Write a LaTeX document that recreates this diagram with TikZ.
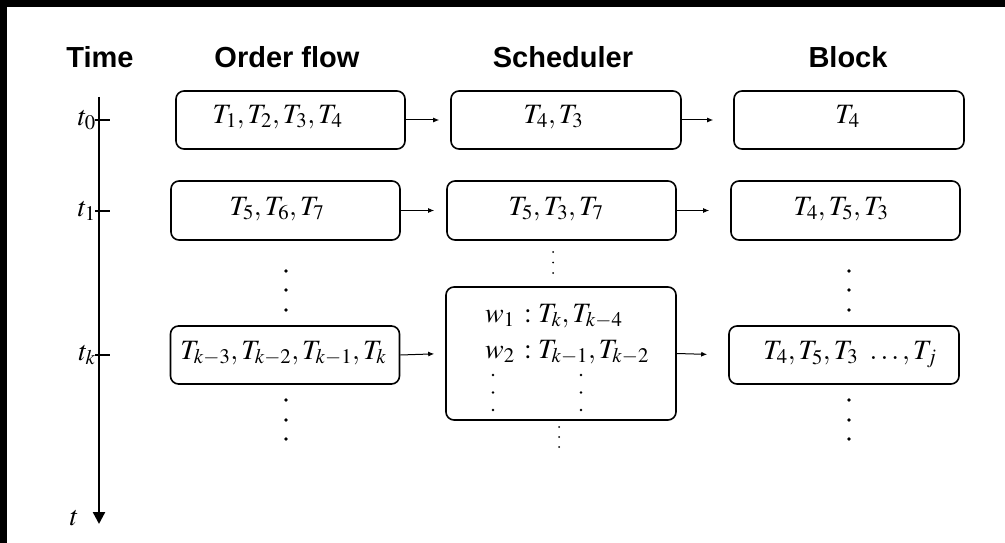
\documentclass[tikz,border=0pt]{standalone}
\usepackage{mathptmx}
\usepackage[no-math]{fontspec}
\newfontfamily\hdrfont{Liberation Sans}
\usetikzlibrary{arrows.meta}
\tikzset{
  box/.style={draw, line width=1.6pt, rounded corners=8pt, minimum width=229pt, minimum height=58pt, inner sep=0pt},
  btxt/.style={anchor=base, inner sep=0pt, font=\fontsize{28}{32}\selectfont},
  hdr/.style={font=\hdrfont\bfseries\fontsize{29}{32}\selectfont},
  arr/.style={line width=1pt, -{Latex[length=6pt,width=5pt]}},
  tick/.style={line width=1.8pt},
  tlab/.style={anchor=base east, inner sep=0pt, font=\fontsize{28}{32}\selectfont},
  bigdot/.style={fill, circle, inner sep=0pt, minimum size=3.6pt},
  smalldot/.style={fill, circle, inner sep=0pt, minimum size=2pt},
  midtxt/.style={anchor=base west, inner sep=0pt, font=\fontsize{28}{32}\selectfont}
}
\begin{document}
\begin{tikzpicture}[x=1pt,y=-1pt]
\useasboundingbox (0,0) rectangle (1005,543);
\fill[white] (0,0) rectangle (1005,543);
\fill[black] (0,0) rectangle (1005,7);
\fill[black] (0,0) rectangle (7,543);
% headers
\node[hdr] (hT) at (100,57) {Time};
\node[hdr] (hO) at (287,57) {Order flow};
\node[hdr] (hS) at (563,57) {Scheduler};
\node[hdr] (hB) at (848,57) {Block};
% time axis
\coordinate (ax0) at (99,97);
\coordinate (ax1) at (99,524);
\draw[line width=2.4pt, -{Triangle[length=12pt,width=12pt]}] (ax0) -- (ax1);
\coordinate (k0) at (95,120); \coordinate (k0e) at (110,120);
\coordinate (k1) at (95,211); \coordinate (k1e) at (110,211);
\coordinate (kk) at (95,355); \coordinate (kke) at (110,355);
\draw[tick] (k0) -- (k0e);
\draw[tick] (k1) -- (k1e);
\draw[tick] (kk) -- (kke);
\node[tlab] (t0) at (96,125) {$t_0$};
\node[tlab] (t1) at (96,216) {$t_1$};
\node[tlab] (tk) at (96,360) {$t_k$};
\node[tlab] (tt) at (79,525) {$t$};
% row 0
\node[box] (O0) at (290.5,120) {};
\node[box, minimum width=230pt] (S0) at (566,120) {};
\node[box, minimum width=230pt] (B0) at (849,120) {};
\node[btxt] (O0t) at (277.5,123.5) {$T_1, T_2, T_3, T_4$};
\node[btxt] (S0t) at (553.5,123.5) {$T_4, T_3$};
\node[btxt] (B0t) at (847.5,123.5) {$T_4$};
% row 1
\node[box, minimum height=59pt] (O1) at (285.5,210.5) {};
\node[box, minimum height=59pt] (S1) at (561.5,210.5) {};
\node[box, minimum height=59pt] (B1) at (845.5,210.5) {};
\node[btxt] (O1t) at (277,215) {$T_5, T_6, T_7$};
\node[btxt] (S1t) at (556,215) {$T_5, T_3, T_7$};
\node[btxt] (B1t) at (841,215) {$T_4, T_5, T_3$};
% row k
\node[box] (Ok) at (285,355) {};
\node[box, minimum width=230pt, minimum height=133pt] (Sk) at (561,353.5) {};
\node[box, minimum width=230pt] (Bk) at (844,355) {};
\node[btxt] (Okt) at (283.5,359) {$T_{k-3}, T_{k-2}, T_{k-1}, T_k$};
\node[btxt] (Bkt) at (850,359.5) {$T_4, T_5, T_3\ \ldots, T_j$};
\node[midtxt] (w1) at (485,322) {$w_1\,: T_k, T_{k-4}$};
\node[midtxt] (w2) at (485,358) {$w_2\,: T_{k-1}, T_{k-2}$};
% arrows
\draw[arr, shorten >=11pt] (O0.east) -- (S0.west);
\draw[arr, shorten >=20pt] (S0.east) -- (B0.west);
\draw[arr, shorten >=12pt] (O1.east) -- (S1.west);
\draw[arr, shorten >=21pt] (S1.east) -- (B1.west);
\draw[arr, shorten >=11pt] (Ok.east) -- (Sk.west);
\draw[arr, shorten >=21pt] (Sk.east) -- (Bk.west);
% dots order flow and block
\foreach \y [count=\i] in {271,290,310,400,420,439} {
  \node[bigdot] (od\i) at (286,\y) {};
  \node[bigdot] (bd\i) at (849,\y) {};
}
% scheduler small vdots
\foreach \y [count=\i] in {252,262.5,273} { \node[smalldot] (sa\i) at (553,\y) {}; }
\foreach \y [count=\i] in {427,437,447} { \node[smalldot] (sb\i) at (559,\y) {}; }
\foreach \y [count=\i] in {375,392.5,410} {
  \node[smalldot, minimum size=2.6pt] (wa\i) at (493,\y) {};
  \node[smalldot, minimum size=2.6pt] (wb\i) at (581,\y) {};
}
\end{tikzpicture}
\end{document}
